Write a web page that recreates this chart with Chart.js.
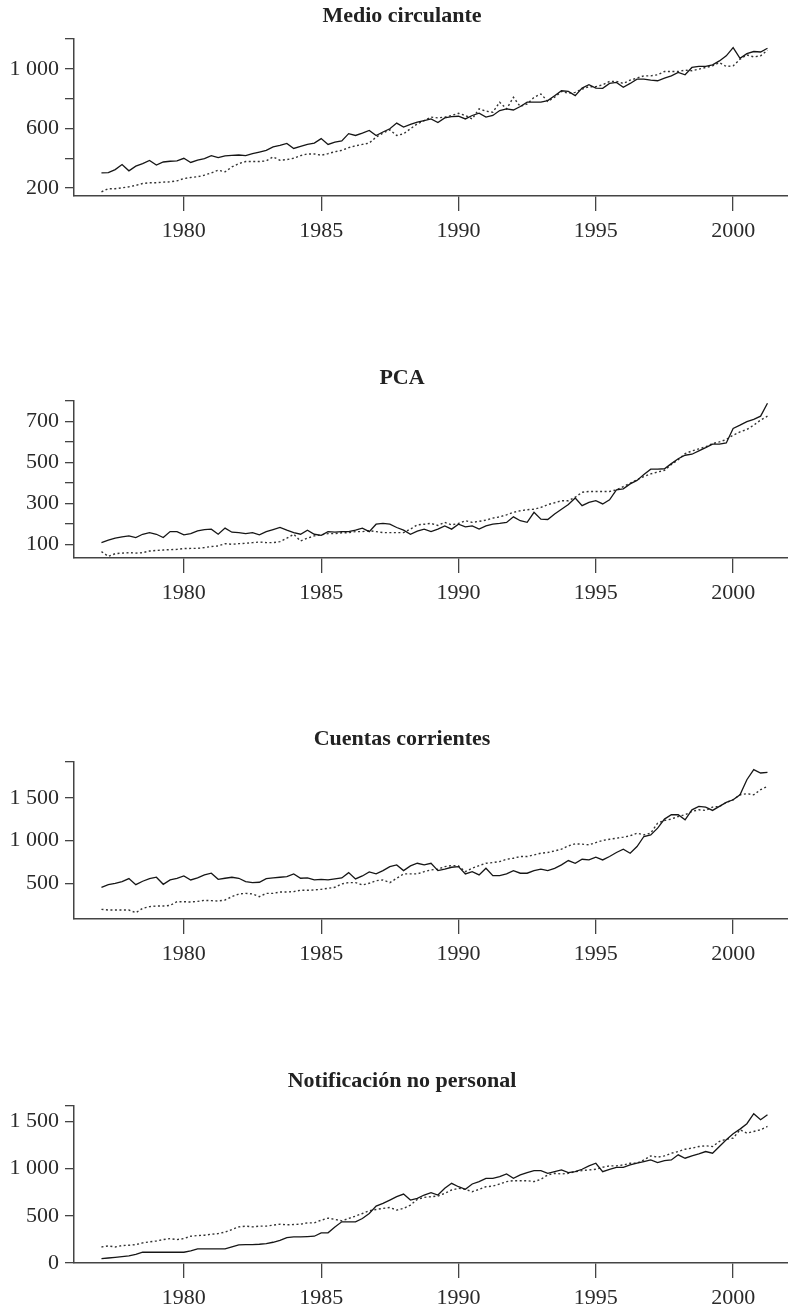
<!DOCTYPE html>
<html>
<head>
<meta charset="utf-8">
<script src="https://cdn.jsdelivr.net/npm/chart.js@4.4.1/dist/chart.umd.min.js"></script>
<style>
  html, body { margin: 0; padding: 0; background: #fff; width: 788px; height: 1310px; overflow: hidden; }
  .panel { position: absolute; left: 0; }
</style>
</head>
<body>
<div class="panel" style="top:0px"><canvas id="c1" width="804" height="244"></canvas></div>
<div class="panel" style="top:362px"><canvas id="c2" width="804" height="244"></canvas></div>
<div class="panel" style="top:723px"><canvas id="c3" width="804" height="244"></canvas></div>
<div class="panel" style="top:1067px"><canvas id="c4" width="804" height="244"></canvas></div>
<script>
// ---- data (quarterly, 1977Q1 .. 2001Q2) ----
const firstYear = 1977;
const perYear = 4;
const xTicks = [1980, 1985, 1990, 1995, 2000];

// Medio circulante
const medioReal = [302, 304, 324, 358, 316, 347, 364, 385, 355, 375,
  380, 382, 400, 372, 388, 398, 418, 404, 416, 420,
  422, 418, 431, 442, 453, 476, 487, 500, 466, 480,
  493, 502, 532, 493, 509, 516, 565, 553, 569, 587,
  553, 576, 598, 636, 609, 627, 642, 653, 664, 640,
  671, 680, 682, 664, 687, 702, 676, 687, 720, 731,
  724, 747, 776, 776, 776, 787, 820, 853, 849, 820,
  871, 893, 871, 869, 902, 909, 876, 902, 931, 931,
  924, 920, 938, 953, 976, 960, 1009, 1016, 1016, 1027,
  1053, 1087, 1142, 1071, 1102, 1116, 1113, 1138];
const medioPron = [175, 196, 196, 202, 209, 218, 231, 236, 236, 240,
  242, 249, 264, 271, 276, 287, 302, 320, 309, 342,
  364, 378, 378, 378, 382, 409, 387, 391, 400, 418,
  429, 429, 420, 431, 444, 453, 471, 484, 493, 502,
  542, 569, 591, 553, 564, 598, 631, 653, 676, 671,
  676, 687, 702, 687, 664, 731, 716, 709, 776, 731,
  809, 747, 764, 809, 831, 782, 809, 849, 836, 842,
  864, 880, 880, 893, 916, 916, 902, 924, 938, 953,
  953, 960, 982, 982, 982, 991, 987, 998, 1009, 1020,
  1042, 1016, 1020, 1064, 1093, 1080, 1087, 1124];
const medioTicks = [200, 400, 600, 800, 1000, 1200];
const medioLabels = ['200', '', '600', '', '1 000', ''];

// PCA
const pcaReal = [108, 120, 130, 136, 141, 133, 149, 157, 149, 133,
  162, 162, 146, 152, 166, 172, 174, 149, 179, 159,
  157, 152, 157, 146, 162, 172, 182, 169, 157, 149,
  169, 149, 144, 162, 159, 162, 162, 169, 179, 162,
  198, 202, 198, 182, 169, 149, 164, 174, 162, 174,
  190, 174, 198, 185, 190, 174, 190, 198, 202, 207,
  234, 215, 207, 256, 223, 221, 248, 271, 294, 326,
  289, 305, 313, 297, 317, 366, 371, 395, 412, 441,
  467, 467, 469, 494, 518, 535, 540, 556, 572, 589,
  589, 595, 666, 682, 699, 710, 726, 789];
const pcaPron = [64, 41, 54, 57, 59, 57, 59, 67, 70, 72,
  74, 75, 79, 80, 80, 84, 89, 92, 103, 100,
  103, 105, 108, 111, 108, 108, 113, 130, 149, 116,
  130, 141, 146, 152, 152, 156, 157, 162, 162, 166,
  162, 157, 157, 157, 157, 174, 195, 198, 202, 192,
  207, 195, 202, 215, 207, 212, 218, 228, 234, 244,
  256, 264, 269, 271, 280, 294, 303, 313, 313, 330,
  354, 358, 358, 358, 358, 366, 382, 398, 415, 431,
  444, 453, 461, 490, 513, 543, 556, 566, 576, 592,
  600, 612, 633, 649, 661, 682, 707, 726];
const pcaTicks = [100, 200, 300, 400, 500, 600, 700, 800];
const pcaLabels = ['100', '', '300', '', '500', '', '700', ''];

// Cuentas corrientes
const cuentasReal = [453, 484, 500, 520, 555, 484, 524, 555, 571, 488,
  539, 559, 586, 539, 563, 598, 618, 547, 559, 571,
  559, 520, 508, 512, 555, 563, 571, 578, 610, 559,
  563, 539, 547, 539, 551, 563, 625, 551, 586, 633,
  610, 649, 696, 716, 649, 704, 735, 716, 735, 649,
  665, 688, 696, 610, 637, 598, 676, 590, 590, 610,
  649, 618, 618, 649, 665, 649, 676, 716, 767, 735,
  782, 774, 806, 774, 814, 861, 900, 853, 931, 1049,
  1068, 1147, 1253, 1304, 1304, 1245, 1362, 1402, 1394, 1355,
  1402, 1449, 1480, 1539, 1715, 1833, 1794, 1802];
const cuentasPron = [194, 186, 186, 186, 186, 155, 206, 226, 233, 233,
  241, 284, 284, 280, 288, 300, 296, 292, 304, 343,
  375, 382, 375, 343, 382, 382, 398, 398, 402, 418,
  418, 422, 429, 441, 453, 492, 508, 508, 480, 500,
  531, 539, 508, 559, 610, 610, 610, 637, 657, 665,
  696, 708, 704, 637, 676, 708, 735, 743, 755, 782,
  794, 814, 814, 833, 853, 861, 880, 900, 939, 963,
  959, 951, 978, 1002, 1017, 1029, 1041, 1057, 1088, 1068,
  1088, 1206, 1237, 1253, 1284, 1304, 1343, 1362, 1355, 1394,
  1402, 1449, 1480, 1539, 1551, 1539, 1598, 1637];
const cuentasTicks = [500, 1000, 1500, 1923];
const cuentasLabels = ['500', '1 000', '1 500', ''];

// Notificación no personal
const notifReal = [46, 53, 60, 67, 75, 92, 114, 114, 114, 114,
  114, 114, 114, 128, 149, 149, 149, 149, 149, 170,
  192, 195, 195, 199, 206, 220, 241, 270, 277, 277,
  280, 284, 320, 320, 383, 437, 437, 437, 472, 525,
  604, 632, 667, 703, 731, 667, 685, 721, 745, 721,
  792, 845, 809, 781, 838, 863, 898, 898, 916, 944,
  898, 934, 959, 980, 980, 951, 969, 987, 959, 969,
  994, 1030, 1058, 969, 994, 1015, 1015, 1040, 1058, 1076,
  1093, 1065, 1086, 1093, 1147, 1111, 1136, 1157, 1182, 1164,
  1235, 1306, 1370, 1420, 1477, 1583, 1519, 1573];
const notifPron = [170, 181, 170, 185, 188, 195, 213, 224, 234, 248,
  259, 248, 259, 284, 291, 295, 305, 312, 327, 355,
  383, 391, 383, 391, 391, 401, 412, 405, 408, 412,
  426, 426, 454, 476, 462, 447, 472, 497, 525, 554,
  568, 579, 589, 561, 579, 614, 675, 696, 703, 710,
  738, 774, 792, 781, 756, 781, 809, 816, 838, 863,
  873, 873, 873, 863, 888, 934, 951, 944, 951, 969,
  980, 987, 994, 1015, 1030, 1030, 1040, 1058, 1058, 1093,
  1136, 1122, 1136, 1164, 1182, 1207, 1218, 1235, 1243, 1235,
  1289, 1314, 1324, 1413, 1377, 1395, 1413, 1448];
const notifTicks = [0, 500, 1000, 1500, 1665];
const notifLabels = ['0', '500', '1 000', '1 500', ''];

// ---- drawing ----
const SERIF = "'Liberation Serif', 'DejaVu Serif', serif";
const INK = '#2a2a2a';

function toPoints(arr) {
  return arr.map((v, i) => ({ x: firstYear + i / perYear, y: v }));
}

function makePanel(id, title, real, pron, yMin, yTicks, yLabels, titlePadTop) {
  const yMax = yTicks[yTicks.length - 1];
  new Chart(document.getElementById(id).getContext('2d'), {
    type: 'line',
    data: {
      datasets: [
        { data: toPoints(real), borderColor: '#161616', borderWidth: 1.3, pointRadius: 0, tension: 0 },
        { data: toPoints(pron), borderColor: '#333', borderWidth: 1.4, borderDash: [2, 2.5], pointRadius: 0, tension: 0 }
      ]
    },
    options: {
      responsive: false,
      animation: false,
      layout: { padding: 0 },
      plugins: {
        legend: { display: false },
        tooltip: { enabled: false },
        title: {
          display: true, text: title, color: '#222',
          font: { family: SERIF, size: 22, weight: 'bold' },
          padding: { top: titlePadTop, bottom: 39 - 26.4 - titlePadTop }
        }
      },
      scales: {
        x: {
          type: 'linear', min: 1976, max: 2002.58,
          afterBuildTicks: s => { s.ticks = xTicks.map(v => ({ value: v })); },
          afterFit: s => { s.height = 48; },
          ticks: { autoSkip: false, maxRotation: 0, padding: 7, color: INK,
                   font: { family: SERIF, size: 22 }, callback: v => String(v) },
          grid: { drawOnChartArea: false, drawTicks: true, tickLength: 15, color: '#444', lineWidth: 1.3 },
          border: { display: true, color: '#444', width: 1.5 }
        },
        y: {
          type: 'linear', min: yMin, max: yMax,
          afterBuildTicks: s => { s.ticks = yTicks.map(v => ({ value: v })); },
          afterFit: s => { s.width = 74; },
          ticks: { autoSkip: false, padding: 6, color: INK,
                   font: { family: SERIF, size: 22 },
                   callback: (v, i) => yLabels[i] },
          grid: { drawOnChartArea: false, drawTicks: true, tickLength: 9, color: '#444', lineWidth: 1.3 },
          border: { display: true, color: '#444', width: 1.5 }
        }
      }
    }
  });
}

makePanel('c1', 'Medio circulante', medioReal, medioPron, 147, medioTicks, medioLabels, 3);
makePanel('c2', 'PCA', pcaReal, pcaPron, 33, pcaTicks, pcaLabels, 3);
makePanel('c3', 'Cuentas corrientes', cuentasReal, cuentasPron, 81, cuentasTicks, cuentasLabels, 3);
makePanel('c4', 'Notificación no personal', notifReal, notifPron, 0, notifTicks, notifLabels, 1);
</script>
</body>
</html>
